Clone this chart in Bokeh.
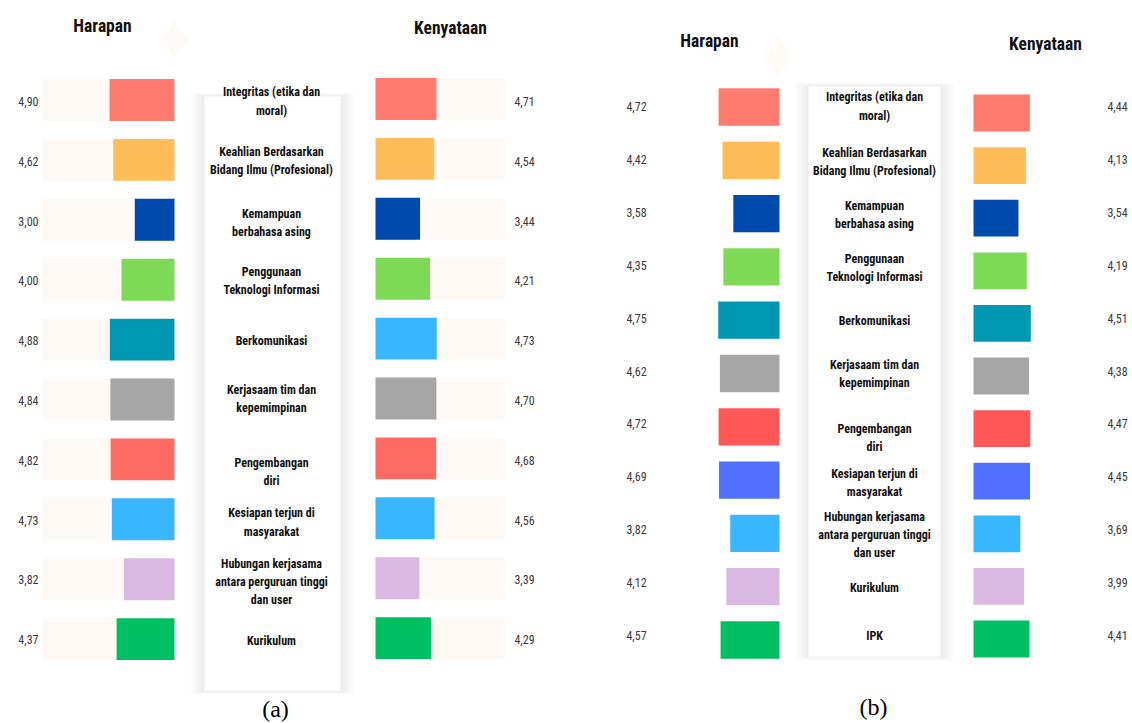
from bokeh.plotting import figure
from bokeh.models import Range1d, ColumnDataSource
from bokeh.core.properties import value
from bokeh.embed import file_html
from bokeh.resources import INLINE

# ---------------- DATA ----------------
cats_a = ["Integritas (etika dan\nmoral)", "Keahlian Berdasarkan\nBidang Ilmu (Profesional)",
          "Kemampuan\nberbahasa asing", "Penggunaan\nTeknologi Informasi", "Berkomunikasi",
          "Kerjasaam tim dan\nkepemimpinan", "Pengembangan\ndiri", "Kesiapan terjun di\nmasyarakat",
          "Hubungan kerjasama\nantara perguruan tinggi\ndan user", "Kurikulum"]
harapan_a = [4.90, 4.62, 3.00, 4.00, 4.88, 4.84, 4.82, 4.73, 3.82, 4.37]
kenyataan_a = [4.71, 4.54, 3.44, 4.21, 4.73, 4.70, 4.68, 4.56, 3.39, 4.29]
colors_a_left = ["#FF7B6F", "#FFBD59", "#004AAD", "#7ED957", "#0097B2", "#A6A6A6",
                 "#FF6B62", "#38B6FF", "#D9B8E1", "#00BF63"]
colors_a_right = ["#FF7B6F", "#FFBD59", "#004AAD", "#7ED957", "#38B6FF", "#A6A6A6",
                  "#FF6B62", "#38B6FF", "#D9B8E1", "#00BF63"]

cats_b = ["Integritas (etika dan\nmoral)", "Keahlian Berdasarkan\nBidang Ilmu (Profesional)",
          "Kemampuan\nberbahasa asing", "Penggunaan\nTeknologi Informasi", "Berkomunikasi",
          "Kerjasaam tim dan\nkepemimpinan", "Pengembangan\ndiri", "Kesiapan terjun di\nmasyarakat",
          "Hubungan kerjasama\nantara perguruan tinggi\ndan user", "Kurikulum", "IPK"]
harapan_b = [4.72, 4.42, 3.58, 4.35, 4.75, 4.62, 4.72, 4.69, 3.82, 4.12, 4.57]
kenyataan_b = [4.44, 4.13, 3.54, 4.19, 4.51, 4.38, 4.47, 4.45, 3.69, 3.99, 4.41]
colors_b = ["#FF7B6F", "#FFBD59", "#004AAD", "#7ED957", "#0097B2", "#A6A6A6",
            "#FF5757", "#5271FF", "#38B6FF", "#D9B8E1", "#00BF63"]

track_max = 10  # faint background track length (panel a)

# ---------------- LAYOUT HELPERS ----------------
X0, Y0, W, H = 0, 0, 1132, 723


def xr(anchor, ppu):
    start = -(anchor - X0) / ppu
    return Range1d(start=start, end=start + W / ppu)


def yr(anchor, ppu_down):
    up = -ppu_down
    start = (anchor - Y0 - H) / up
    return Range1d(start=start, end=start + H / up)


p = figure(width=W, height=H, output_backend="svg", toolbar_location=None,
           x_range=Range1d(X0, X0 + W), y_range=Range1d(Y0 + H, Y0),
           min_border=0, outline_line_color=None)
p.axis.visible = False
p.grid.visible = False
p.background_fill_color = "white"
p.border_fill_color = "white"

p.extra_x_ranges = {
    "aL": xr(174, -13.25), "aR": xr(375, 12.95),
    "bL": xr(779, -12.9), "bR": xr(973, 12.7),
}
p.extra_y_ranges = {
    "aLy": yr(99.5, 59.9), "aRy": yr(98.5, 59.9),
    "bLy": yr(106.5, 53.3), "bRy": yr(112.5, 52.6),
    "aT": yr(101, 59.8), "bT": yr(106, 52.9),
}

COND = "'Liberation Sans Narrow', 'Roboto Condensed', 'DejaVu Sans Condensed', 'Noto Sans', sans-serif"


def fmt(v):
    return f"{v:.2f}".replace(".", ",")


# ---------------- CARDS ----------------
def card(l, r, t, b):
    for i in range(10, 0, -1):
        p.quad(left=l - i * 1.4, right=r + i * 1.4, top=t - i * 0.4, bottom=b + i * 0.4,
               fill_color="#000000", fill_alpha=0.007, line_color=None)
    p.quad(left=l, right=r, top=t, bottom=b, fill_color="white", line_color=None)


card(204, 340, 96, 690)
card(808, 940, 86, 656)

# faint diamonds
p.scatter(x=[174, 778], y=[39, 56], marker="diamond", size=40, fill_color="#FEFAF6",
          line_color=None)

# ---------------- PANEL A ----------------
n_a = len(cats_a)
rows_a = list(range(n_a))
lab_a_y = [r + d for r, d in zip(rows_a, [0, 0, 0.03, 0, 0, -0.03, 0.19, 0.04, 0.04, 0.03])]
# faint tracks
p.hbar(y=rows_a, left=0, right=[track_max] * n_a, height=0.7, fill_color="#FFF9F5",
       line_color=None, x_range_name="aL", y_range_name="aLy")
p.hbar(y=rows_a, left=0, right=[track_max] * n_a, height=0.7, fill_color="#FFF9F5",
       line_color=None, x_range_name="aR", y_range_name="aRy")

p.hbar(y=rows_a, left=0, right=harapan_a, height=0.7, fill_color=colors_a_left,
       line_color=None, x_range_name="aL", y_range_name="aLy")
p.hbar(y=rows_a, left=0, right=kenyataan_a, height=0.7, fill_color=colors_a_right,
       line_color=None, x_range_name="aR", y_range_name="aRy")

src = ColumnDataSource(dict(y=rows_a, t=[fmt(v) for v in harapan_a]))
p.text(x=38, y="y", text="t", source=src, y_range_name="aT", text_align="right",
       text_baseline="middle", text_font=value(COND), text_font_size="12px",
       text_color="#3a3a3a")
src = ColumnDataSource(dict(y=rows_a, t=[fmt(v) for v in kenyataan_a]))
p.text(x=524, y="y", text="t", source=src, y_range_name="aT", text_align="center",
       text_baseline="middle", text_font=value(COND), text_font_size="12px",
       text_color="#3a3a3a")
src = ColumnDataSource(dict(y=lab_a_y, t=cats_a))
p.text(x=271, y="y", text="t", source=src, y_range_name="aT", text_align="center",
       text_baseline="middle", text_font=value(COND), text_font_style="bold",
       text_font_size="12px", text_color="#111111", text_line_height=1.3)

# ---------------- PANEL B ----------------
n_b = len(cats_b)
rows_b = list(range(n_b))
lab_b_y = [r + d for r, d in zip(rows_b, [0, 0.05, 0.05, 0.05, 0.05, 0.05, 0.27, 0.12, 0.1, 0.11, 0])]
p.hbar(y=rows_b, left=0, right=harapan_b, height=0.7, fill_color=colors_b,
       line_color=None, x_range_name="bL", y_range_name="bLy")
p.hbar(y=rows_b, left=0, right=kenyataan_b, height=0.7, fill_color=colors_b,
       line_color=None, x_range_name="bR", y_range_name="bRy")

src = ColumnDataSource(dict(y=rows_b, t=[fmt(v) for v in harapan_b]))
p.text(x=636, y="y", text="t", source=src, y_range_name="bT", text_align="center",
       text_baseline="middle", text_font=value(COND), text_font_size="12px",
       text_color="#3a3a3a")
src = ColumnDataSource(dict(y=rows_b, t=[fmt(v) for v in kenyataan_b]))
p.text(x=1117, y="y", text="t", source=src, y_range_name="bT", text_align="center",
       text_baseline="middle", text_font=value(COND), text_font_size="12px",
       text_color="#3a3a3a")
src = ColumnDataSource(dict(y=lab_b_y, t=cats_b))
p.text(x=874, y="y", text="t", source=src, y_range_name="bT", text_align="center",
       text_baseline="middle", text_font=value(COND), text_font_style="bold",
       text_font_size="12px", text_color="#111111", text_line_height=1.3)

# ---------------- TITLES ----------------
p.text(x=[102, 450, 709, 1045], y=[25, 27, 40, 43],
       text=["Harapan", "Kenyataan", "Harapan", "Kenyataan"],
       text_align="center", text_baseline="middle", text_font=value(COND),
       text_font_style="bold", text_font_size="17.5px", text_color="#111111")
p.text(x=[275, 873], y=[708, 706], text=["(a)", "(b)"], text_align="center",
       text_baseline="middle", text_font=value("Liberation Serif"),
       text_font_size="24px", text_color="#000000")

open("out.html", "w").write(file_html(p, INLINE))
